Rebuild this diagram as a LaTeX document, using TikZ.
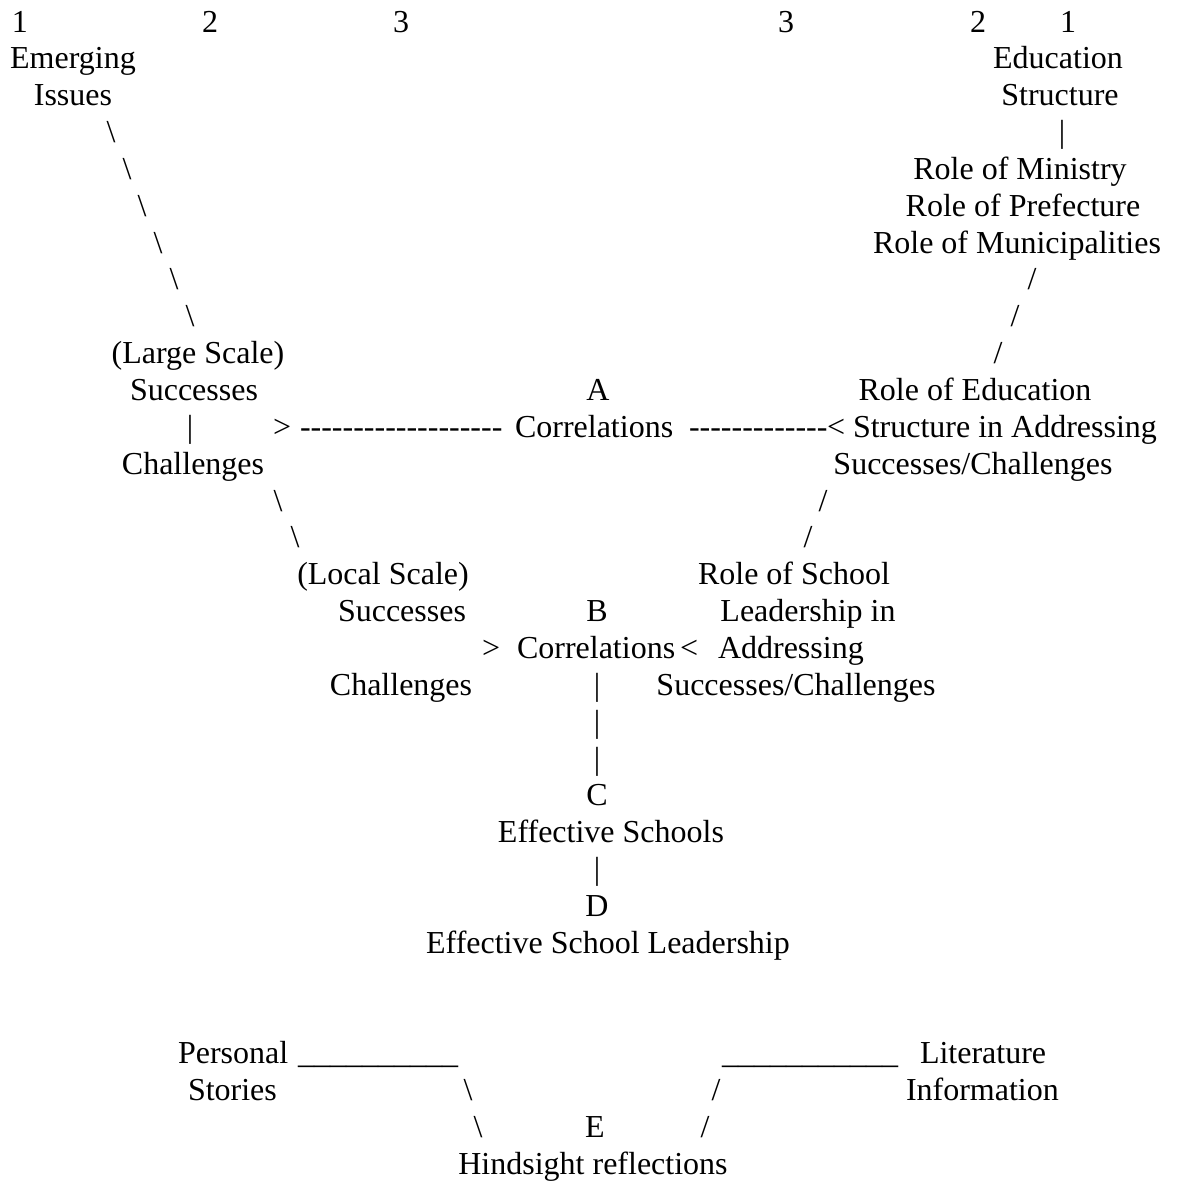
\documentclass[tikz,border=0pt]{standalone}
\usepackage{fontspec}
\setmainfont{Liberation Serif}[Ligatures=TeXOff]
\newcommand{\bigfont}{\fontsize{32pt}{37pt}\selectfont}
\newcommand{\bs}{\textbackslash}
\newcommand{\hyn}[1]{\foreach \i in {1,...,#1}{-}}
\begin{document}
\begin{tikzpicture}[x=1pt,y=-36.85pt,
  tc/.style={inner sep=0pt,outer sep=0pt,anchor=base,font=\bigfont},
  tw/.style={inner sep=0pt,outer sep=0pt,anchor=base west,font=\bigfont}]
\useasboundingbox (0pt,0pt) rectangle (1176pt,-1181pt);
\begin{scope}[yshift=-32pt]
% top numbers (row 0)
\node[tw] (nL1) at (12,0) {1};
\node[tw] (nL2) at (202,0) {2};
\node[tw] (nL3) at (393,0) {3};
\node[tw] (nR3) at (778,0) {3};
\node[tw] (nR2) at (970,0) {2};
\node[tw] (nR1) at (1060,0) {1};
% left arm
\node[tc] (emerg1) at (73,1) {Emerging};
\node[tc] (emerg2) at (73,2) {Issues};
\node[tc] (bsA1) at (111,3) {\bs};
\node[tc] (bsA2) at (127,4) {\bs};
\node[tc] (bsA3) at (142,5) {\bs};
\node[tc] (bsA4) at (158,6) {\bs};
\node[tc] (bsA5) at (174,7) {\bs};
\node[tc] (bsA6) at (190,8) {\bs};
\node[tc] (ls1) at (198,9) {(Large Scale)};
\node[tc] (ls2) at (194,10) {Successes};
\node[tc] (lsbar) at (190,11) {|};
\node[tc] (ls3) at (193,12) {Challenges};
\node[tc] (bsB1) at (278,13) {\bs};
\node[tc] (bsB2) at (295,14) {\bs};
% right arm
\node[tc] (edu1) at (1058,1) {Education};
\node[tc] (edu2) at (1060,2) {Structure};
\node[tc] (edubar) at (1062,3) {|};
\node[tc] (role1) at (1020,4) {Role of Ministry};
\node[tc] (role2) at (1023,5) {Role of Prefecture};
\node[tc] (role3) at (1017,6) {Role of Municipalities};
\node[tc] (slA1) at (1032,7) {/};
\node[tc] (slA2) at (1015,8) {/};
\node[tc] (slA3) at (998,9) {/};
\node[tc] (res1) at (975,10) {Role of Education};
\node[tc] (res3) at (973,12) {Successes/Challenges};
\node[tc] (slB1) at (823,13) {/};
\node[tc] (slB2) at (808,14) {/};
% row A
\node[tc] (A) at (598,10) {A};
\node[tw] (gtA) at (273,11) {>};
\node[tw] (dashA1) at (300,11) {\hyn{19}};
\node[tw] (corA) at (515,11) {Correlations};
\node[tw] (dashA2) at (689,11) {\hyn{13}};
\node[tw] (ltA) at (827,11) {<};
\node[tw] (res2) at (853,11) {Structure in Addressing};
% local scale
\node[tc] (lc1) at (383,15) {(Local Scale)};
\node[tc] (lc2) at (402,16) {Successes};
\node[tc] (lc3) at (401,18) {Challenges};
\node[tc] (sch1) at (794,15) {Role of School};
\node[tc] (sch2) at (808,16) {Leadership in};
\node[tw] (sch3) at (718,17) {Addressing};
\node[tc] (sch4) at (796,18) {Successes/Challenges};
% row B
\node[tc] (B) at (597,16) {B};
\node[tw] (gtB) at (482,17) {>};
\node[tw] (corB) at (517,17) {Correlations};
\node[tw] (ltB) at (680,17) {<};
\node[tc] (barB1) at (597,18) {|};
\node[tc] (barB2) at (597,19) {|};
\node[tc] (barB3) at (597,20) {|};
% C, D
\node[tc] (C) at (597,21) {C};
\node[tc] (Ctext) at (611,22) {Effective Schools};
\node[tc] (barC) at (597,23) {|};
\node[tc] (D) at (597,24) {D};
\node[tc] (Dtext) at (608,25) {Effective School Leadership};
% E
\node[tw] (pers1) at (178,28) {Personal};
\node[tw] (pers2) at (188,29) {Stories};
\node[tw] (undL) at (298,28) {\_\_\_\_\_\_\_\_\_\_};
\node[tw] (undR) at (722,28) {\_\_\_\_\_\_\_\_\_\_\_};
\node[tw] (lit1) at (920,28) {Literature};
\node[tw] (lit2) at (906,29) {Information};
\node[tc] (bsE1) at (468,29) {\bs};
\node[tc] (bsE2) at (478,30) {\bs};
\node[tc] (slE1) at (716,29) {/};
\node[tc] (slE2) at (705,30) {/};
\node[tc] (E) at (595,30) {E};
\node[tc] (Etext) at (593,31) {Hindsight reflections};
\end{scope}
\end{tikzpicture}
\end{document}
